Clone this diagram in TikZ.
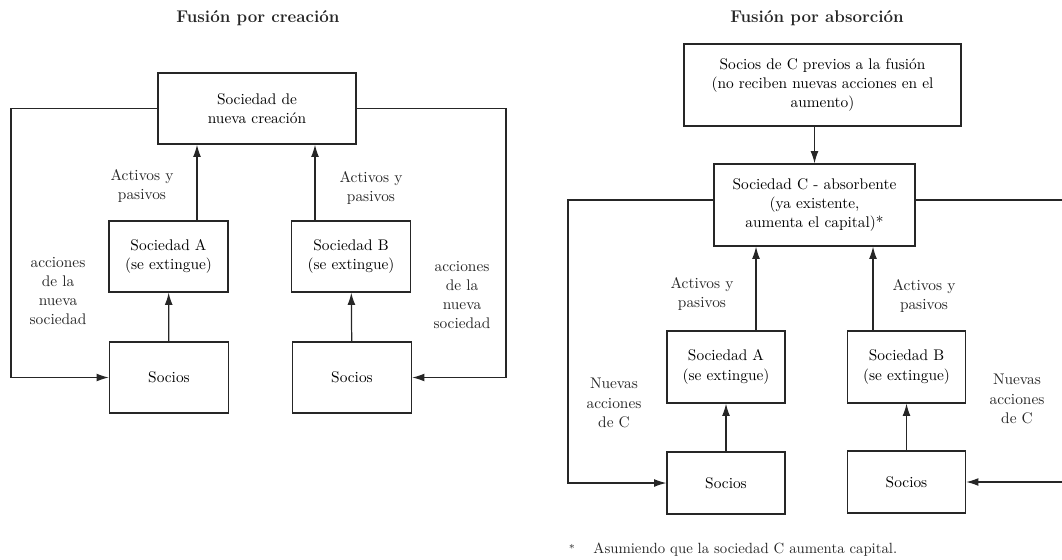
\documentclass[tikz,border=0pt]{standalone}
\usepackage{tikz}
\usetikzlibrary{positioning, arrows.meta}

\begin{document}
\begin{tikzpicture}[
    x=0.65pt, y=-0.65pt,
    caja/.style={rectangle, draw=black!85, line width=0.8pt, align=center,
                 inner sep=2pt, font=\fontsize{10}{12.5}\selectfont},
    flecha/.style={-{Latex[length=2.8mm, width=1.8mm]}, line width=0.8pt, draw=black!85},
    linea/.style={line width=0.8pt, draw=black!85},
    etiqueta/.style={align=center, font=\fontsize{10}{12.5}\selectfont, text=black!85},
    titulo/.style={font=\fontsize{11}{13}\selectfont\bfseries, text=black!85}
]
    \useasboundingbox (0,0) rectangle (1062,559);

    % === Fusion por creacion ===
    \node[titulo] (t1) at (258,18) {Fusión por creación};
    \node[caja, minimum width=128.7pt, minimum height=46.2pt] (nueva) at (257,108.5)
        {Sociedad de\\nueva creación};
    \node[caja, minimum width=77.4pt, minimum height=46.2pt] (socA) at (168.5,256.5)
        {Sociedad A\\(se extingue)};
    \node[caja, minimum width=77.4pt, minimum height=46.2pt] (socB) at (351,256.5)
        {Sociedad B\\(se extingue)};
    \node[caja, minimum width=77.4pt, minimum height=46.2pt] (sociosA) at (169,377.5) {Socios};
    \node[caja, minimum width=77.4pt, minimum height=46.2pt] (sociosB) at (352,377.5) {Socios};

    \coordinate (xA) at (197,0);
    \coordinate (xB) at (315,0);
    \coordinate (esqA) at (11,108.5);
    \coordinate (esqB) at (506,108.5);

    \draw[flecha] (socA.north -| xA) -- (nueva.south -| xA);
    \draw[flecha] (socB.north -| xB) -- (nueva.south -| xB);
    \draw[flecha] (sociosA) -- (socA);
    \draw[flecha] (sociosB) -- (socB);
    \draw[flecha] (nueva.west) -- (esqA) |- (sociosA.west);
    \draw[flecha] (nueva.east) -- (esqB) |- (sociosB.east);

    \node[etiqueta] (lA) at (142,186) {Activos y\\pasivos};
    \node[etiqueta] (lB) at (371,188) {Activos y\\pasivos};
    \node[etiqueta] (accA) at (58,291) {acciones\\de la\\nueva\\sociedad};
    \node[etiqueta] (accB) at (462,295) {acciones\\de la\\nueva\\sociedad};

    % === Fusion por absorcion ===
    \node[titulo] (t2) at (817,18) {Fusión por absorción};
    \node[caja, minimum width=180pt, minimum height=53.3pt] (previos) at (822.5,85)
        {Socios de C previos a la fusión\\(no reciben nuevas acciones en el\\aumento)};
    \node[caja, minimum width=130.7pt, minimum height=53.3pt] (absorb) at (814.5,205)
        {Sociedad C - absorbente\\(ya existente,\\aumenta el capital)*};
    \node[caja, minimum width=76.7pt, minimum height=46.8pt] (socA2) at (726,367)
        {Sociedad A\\(se extingue)};
    \node[caja, minimum width=76.7pt, minimum height=46.8pt] (socB2) at (906.5,367)
        {Sociedad B\\(se extingue)};
    \node[caja, minimum width=76.7pt, minimum height=40.3pt] (sociosA2) at (726,483) {Socios};
    \node[caja, minimum width=76.7pt, minimum height=40.3pt] (sociosB2) at (906.5,482) {Socios};

    \coordinate (xA2) at (756,0);
    \coordinate (xB2) at (873,0);
    \coordinate (esqC) at (568,200);
    \coordinate (esqD) at (1066,200);

    \draw[flecha] (previos.south -| absorb.north) -- (absorb.north);
    \draw[flecha] (socA2.north -| xA2) -- (absorb.south -| xA2);
    \draw[flecha] (socB2.north -| xB2) -- (absorb.south -| xB2);
    \draw[flecha] (sociosA2) -- (socA2);
    \draw[flecha] (sociosB2) -- (socB2);
    \draw[flecha] (absorb.west |- esqC) -- (esqC) |- (sociosA2.west);
    \draw[flecha] (absorb.east |- esqD) -- (esqD) |- (sociosB2.east);

    \node[etiqueta] (lA2) at (702,294) {Activos y\\pasivos};
    \node[etiqueta] (lB2) at (924,296) {Activos y\\pasivos};
    \node[etiqueta] (nuevasA) at (614,403) {Nuevas\\acciones\\de C};
    \node[etiqueta] (nuevasB) at (1017,399) {Nuevas\\acciones\\de C};

    % nota al pie
    \node[etiqueta, font=\fontsize{7}{8}\selectfont] (ast) at (572,548) {*};
    \node[etiqueta, anchor=west, font=\fontsize{9.6}{11}\selectfont] (nota) at (588,550)
        {Asumiendo que la sociedad C aumenta capital.};

\end{tikzpicture}
\end{document}
